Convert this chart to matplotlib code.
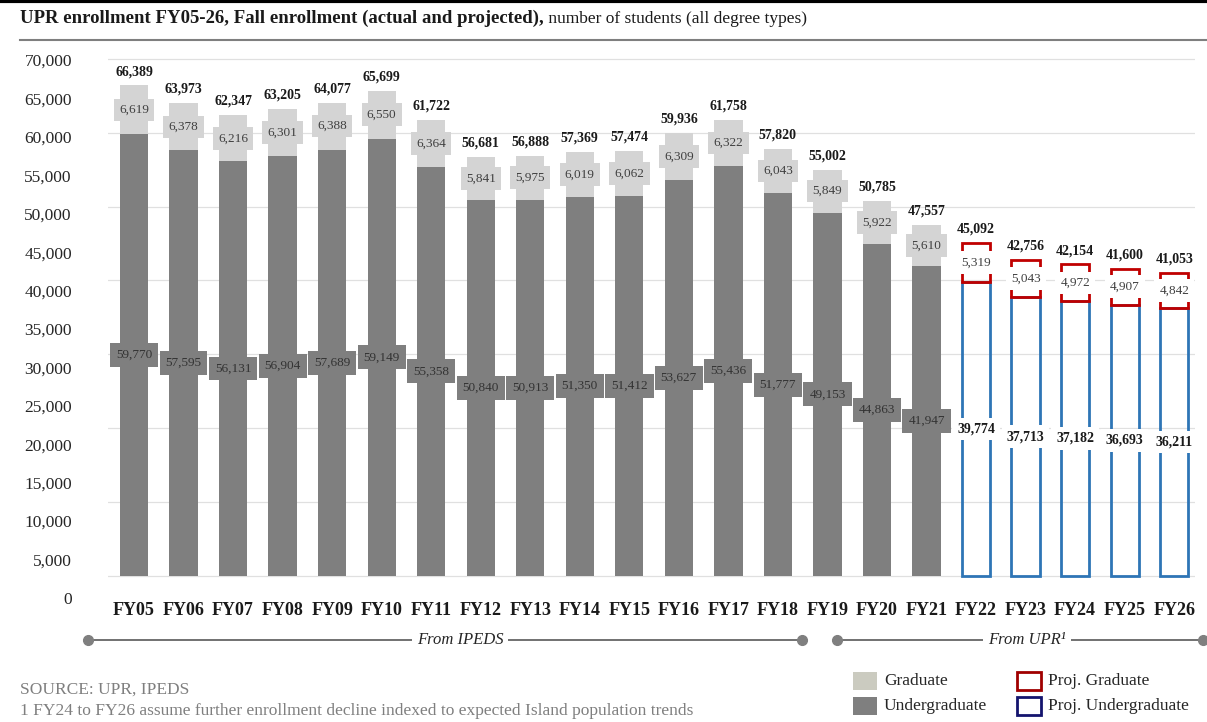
import numpy as np
import matplotlib.pyplot as plt
from matplotlib.patches import Rectangle
from matplotlib.lines import Line2D

plt.rcParams['font.family'] = ['Liberation Serif', 'DejaVu Serif']

# data
years = ['FY05', 'FY06', 'FY07', 'FY08', 'FY09', 'FY10', 'FY11', 'FY12', 'FY13', 'FY14', 'FY15',
         'FY16', 'FY17', 'FY18', 'FY19', 'FY20', 'FY21', 'FY22', 'FY23', 'FY24', 'FY25', 'FY26']
undergrad = [59770, 57595, 56131, 56904, 57689, 59149, 55358, 50840, 50913, 51350, 51412,
             53627, 55436, 51777, 49153, 44863, 41947, 39774, 37713, 37182, 36693, 36211]
graduate = [6619, 6378, 6216, 6301, 6388, 6550, 6364, 5841, 5975, 6019, 6062,
            6309, 6322, 6043, 5849, 5922, 5610, 5319, 5043, 4972, 4907, 4842]
totals = [66389, 63973, 62347, 63205, 64077, 65699, 61722, 56681, 56888, 57369, 57474,
          59936, 61758, 57820, 55002, 50785, 47557, 45092, 42756, 42154, 41600, 41053]
n_actual = 17  # FY05-FY21 actual, FY22-FY26 projected
ytick_labels = [f'{v:,}' for v in range(0, 70001, 5000)]

GRAD = '#d4d4d4'
UNDER = '#7f7f7f'
RED = '#c00000'
BLUE = '#2e75b6'

W, H = 1207, 722
fig = plt.figure(figsize=(W / 100, H / 100), dpi=100)
ax = fig.add_axes([108 / W, 1 - 598 / H, (1195 - 108) / W, (598 - 44) / H])

x = np.arange(len(years))
und = np.array(undergrad)
grd = np.array(graduate)
bw = 0.57
a, p = slice(0, n_actual), slice(n_actual, None)

ax.bar(x[a], und[a], width=bw, color=UNDER, zorder=2)
ax.bar(x[a], grd[a], bottom=und[a], width=bw, color=GRAD, zorder=2)
ax.bar(x[p], und[p], width=bw, facecolor='none', edgecolor=BLUE, lw=2, zorder=2)
ax.bar(x[p], grd[p], bottom=und[p], width=bw, facecolor='none', edgecolor=RED, lw=2, zorder=3)

for i in range(len(years)):
    proj = i >= n_actual
    u, g = undergrad[i], graduate[i]
    ax.text(x[i], u + g / 2, f'{g:,}', ha='center', va='center', fontsize=9.5, color='#404040',
            bbox=dict(boxstyle='square,pad=0.4', fc='white' if proj else GRAD, ec='none'), zorder=5)
    if proj:
        ax.text(x[i], u / 2, f'{u:,}', ha='center', va='center', fontsize=10, fontweight='bold',
                color='#1a1a1a', bbox=dict(boxstyle='square,pad=0.35', fc='white', ec='none'), zorder=5)
    else:
        ax.text(x[i], u / 2, f'{u:,}', ha='center', va='center', fontsize=9.5, color='#333333',
                bbox=dict(boxstyle='square,pad=0.45', fc=UNDER, ec='none'), zorder=5)
    ax.annotate(f'{totals[i]:,}', (x[i], u + g), xytext=(0, 10), textcoords='offset points',
                ha='center', va='center', fontsize=10, fontweight='bold', color='#1a1a1a')

for gy in range(0, 70001, 10000):
    ax.axhline(gy, color='#e0e0e0', lw=0.9, zorder=0)

ax.set_xlim(-0.525, 21.42)
ax.set_ylim(-3000, 72000)
# the reference prints its y labels on an evenly spaced column of its own
ax.set_yticks(np.linspace(-2980, 69815, len(ytick_labels)))
ax.set_yticklabels(ytick_labels)
ax.set_xticks(x)
ax.set_xticklabels(years, fontweight='bold')
ax.tick_params(axis='y', length=0, pad=26, labelsize=12.5, labelcolor='#262626')
ax.tick_params(axis='x', length=0, pad=3, labelsize=13, labelcolor='#1a1a1a')
for s in ax.spines.values():
    s.set_visible(False)

# title
fig.add_artist(Line2D([0, 1], [1 - 1 / H] * 2, color='black', lw=3))
t1 = fig.text(20 / W, 1 - 27 / H, 'UPR enrollment FY05-26, Fall enrollment (actual and projected),',
              fontsize=13.5, fontweight='bold', color='#1a1a1a', va='bottom')
ax.annotate(' number of students (all degree types)', xy=(1, 0), xycoords=t1, va='bottom',
            fontsize=12.5, color='#1a1a1a', annotation_clip=False)
fig.add_artist(Line2D([20 / W, 1], [1 - 40 / H] * 2, color='#7f7f7f', lw=1.5))

# source brackets under the axis
for x0, x1, xt, label in [(88, 802, 460, 'From IPEDS'), (837, 1203, 1027, 'From UPR¹')]:
    fig.add_artist(Line2D([x0 / W, x1 / W], [1 - 640 / H] * 2, color='#595959', lw=1.2,
                          marker='o', markersize=7, markerfacecolor='#7f7f7f', markeredgecolor='#7f7f7f'))
    fig.text(xt / W, 1 - 640 / H, label, ha='center', va='center', fontsize=12, style='italic',
             color='#262626', bbox=dict(boxstyle='square,pad=0.3', fc='white', ec='none'))

fig.text(20 / W, 1 - 690 / H, 'SOURCE: UPR, IPEDS', fontsize=12.5, color='#7f7f7f', va='center')
fig.text(20 / W, 1 - 711 / H, '1 FY24 to FY26 assume further enrollment decline indexed to expected Island population trends',
         fontsize=12.5, color='#7f7f7f', va='center')

# legend
legend_items = [
    (853, 681, '#cbcbc0', 'none', 'Graduate'),
    (853, 706, UNDER, 'none', 'Undergraduate'),
    (1017, 681, 'white', '#a00000', 'Proj. Graduate'),
    (1017, 706, 'white', '#14146e', 'Proj. Undergraduate'),
]
for lx, ly, fc, ec, label in legend_items:
    fig.add_artist(Rectangle((lx / W, 1 - (ly + 9) / H), 24 / W, 18 / H, transform=fig.transFigure,
                             facecolor=fc, edgecolor=ec, lw=2))
    fig.text((lx + 31) / W, 1 - ly / H, label, fontsize=12.5, color='#262626', va='center')

plt.savefig('out.png', dpi=100)
